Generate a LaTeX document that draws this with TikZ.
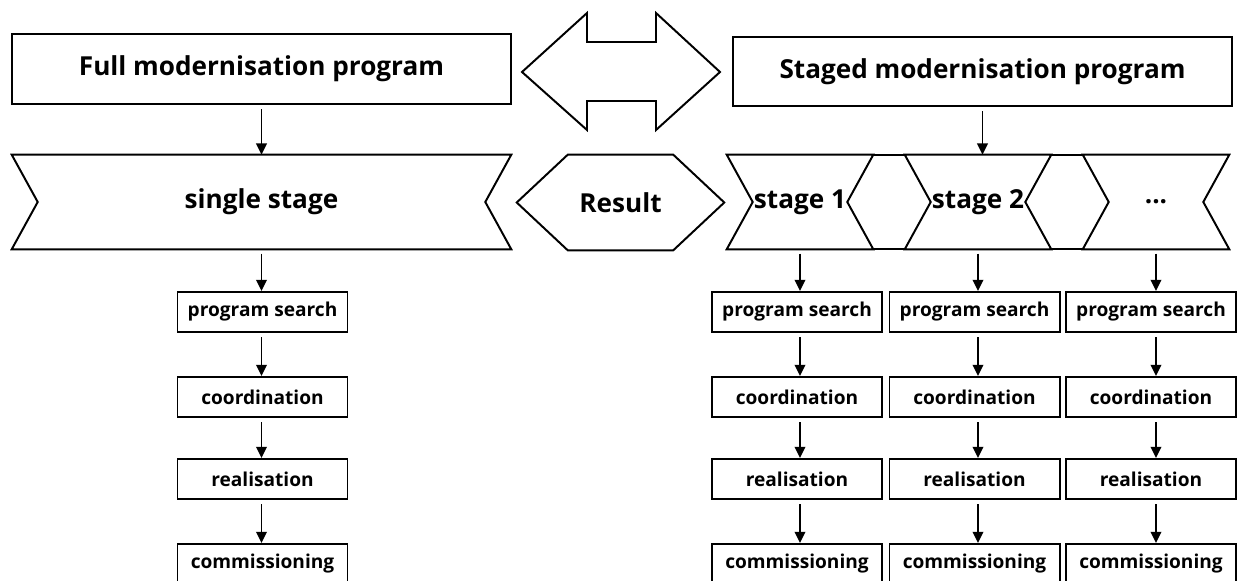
\documentclass[tikz,border=0pt]{standalone}
\usepackage{fontspec}
\setmainfont{Open Sans}
\usetikzlibrary{positioning,arrows.meta,calc}

\begin{document}
\begin{tikzpicture}[
  font=\bfseries, >={Triangle[length=8pt,width=7.5pt]},
  prog/.style={draw, line width=1.4pt, minimum width=12.475cm, minimum height=1.75cm,
               font=\fontsize{18.6}{20}\selectfont\bfseries},
  stagebox/.style={minimum height=2.35cm, inner sep=0pt,
               font=\fontsize{18.6}{20}\selectfont\bfseries},
  task/.style={draw, line width=1.4pt, minimum width=4.25cm, minimum height=1cm,
               inner sep=0pt, font=\fontsize{13.6}{15}\selectfont\bfseries},
  arr/.style={->, line width=1.3pt, shorten <=3pt},
  edge/.style={line width=1.4pt, line join=miter},
]
\useasboundingbox (0,0) rectangle (30.925,-14.525);

% the two programs and the comparison arrow
\node[prog] (full)   at (6.5375,-1.725)   {Full modernisation program};
\node[prog, minimum height=1.725cm] (staged) at (24.5625,-1.7875) {Staged modernisation program};
\draw[edge] (13.05,-1.8) -- (14.675,-0.325) -- (14.675,-1.05) -- (16.4,-1.05) -- (16.4,-0.325)
  -- (18,-1.8) -- (16.4,-3.25) -- (16.4,-2.525) -- (14.675,-2.525) -- (14.675,-3.25) -- cycle;

% stages (outline drawn from the node anchors)
\node[stagebox, minimum width=12.475cm] (single) at (6.5375,-5.05) {single stage};
\node[stagebox, minimum width=3.65cm] (s1) at (20,-5.05)    {stage 1};
\node[stagebox, minimum width=3.65cm] (s2) at (24.45,-5.05) {stage 2};
\node[stagebox, minimum width=3.65cm] (s3) at (28.9,-5.05)  {...};
\foreach \n in {single,s1,s2,s3}
  \draw[edge] (\n.north west) -- (\n.north east) -- ([xshift=-0.65cm]\n.east) -- (\n.south east)
    -- (\n.south west) -- ([xshift=0.65cm]\n.west) -- cycle;
\draw[edge] (s1.north east) -- (s2.north west) (s2.north east) -- (s3.north west)
  (s1.south east) -- (s2.south west) (s2.south east) -- (s3.south west);

% result hexagon
\node[stagebox, minimum width=5.175cm, minimum height=2.375cm] (result) at (15.5125,-5.0625) {Result};
\draw[edge] (result.west) -- ([xshift=1.275cm]result.north west) -- ([xshift=-1.275cm]result.north east)
  -- (result.east) -- ([xshift=-1.275cm]result.south east) -- ([xshift=1.275cm]result.south west) -- cycle;

% steps of each stage
\foreach \c/\x in {0/6.5625,1/19.925,2/24.3625,3/28.775} {
  \node[task] (ps\c) at (\x,-7.8)   {program search};
  \node[task] (co\c) at (\x,-9.925) {coordination};
  \node[task] (re\c) at (\x,-11.975) {realisation};
  \node[task] (cm\c) at (\x,-14.1)  {commissioning};
}

\draw[arr] (full) -- (single);
\draw[arr] (staged.south) -- (staged.south |- s2.north);
\foreach \c/\s in {0/single,1/s1,2/s2,3/s3} {
  \draw[arr] (\s.south) -- (\s.south |- ps\c.north);
  \draw[arr] (ps\c.south -| \s) -- (co\c.north -| \s);
  \draw[arr] (co\c.south -| \s) -- (re\c.north -| \s);
  \draw[arr] (re\c.south -| \s) -- (cm\c.north -| \s);
}
\end{tikzpicture}
\end{document}
